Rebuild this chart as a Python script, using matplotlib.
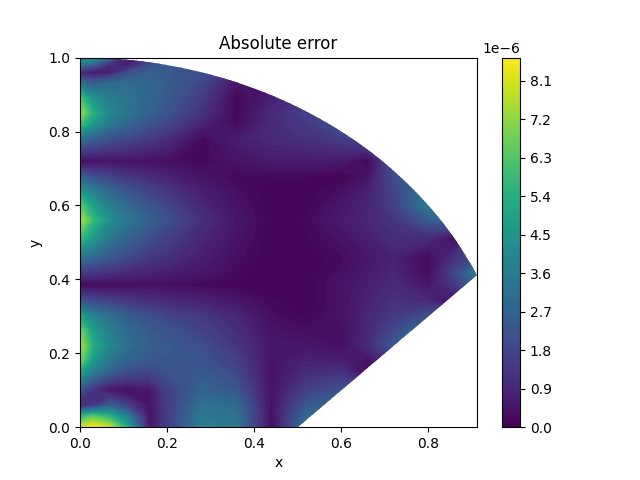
import numpy as np
import matplotlib
matplotlib.use('Agg')
import matplotlib.pyplot as plt
from matplotlib.path import Path

# sample positions
x_vals = [0, .03, .07, .11, .16, .2, .28, .36, .44, .52, .6, .66, .72, .8, .86, .92]
y_vals = [0, .03, .06, .1, .15, .18, .22, .26, .3, .34, .385, .42, .46, .51, .56, .6, .64, .68,
          .72, .78, .82, .85, .89, .93, .96, .98, 1.0]

# absolute error in units of 1e-6, one row per y value
err_00 = [8.0, 8.6, 7.8, 5.2, 0.4, 1.5, 3.7, 3.4, 0.2, 3.4, 3.4, 3.0, 3.0, 3.0, 3.0, 3.0]
err_03 = [5.5, 6.4, 5.5, 3.5, 0.4, 1.5, 3.5, 3.2, 0.3, 2.9, 3.3, 3.0, 3.0, 3.0, 3.0, 3.0]
err_06 = [0.8, 1.2, 2.5, 1.5, 0.4, 1.5, 3.2, 2.9, 0.4, 2.3, 2.8, 2.5, 2.5, 2.5, 2.5, 2.5]
err_10 = [2.2, 1.2, 0.4, 0.3, 0.5, 1.6, 2.7, 2.3, 0.4, 1.6, 2.2, 1.5, 1.5, 1.5, 1.5, 1.5]
err_15 = [5.0, 3.7, 2.6, 2.0, 1.8, 2.1, 2.4, 1.8, 0.4, 1.0, 1.2, 0.2, 0.5, 1.0, 1.0, 1.0]
err_18 = [6.8, 4.6, 3.3, 2.7, 2.3, 2.3, 2.2, 1.6, 0.4, 0.8, 0.7, 0.4, 1.4, 2.0, 2.0, 2.0]
err_22 = [7.6, 5.4, 3.9, 3.1, 2.6, 2.4, 2.0, 1.3, 0.5, 0.5, 0.3, 1.0, 2.3, 3.0, 3.0, 3.0]
err_26 = [6.8, 4.8, 3.6, 2.9, 2.4, 2.2, 1.7, 1.1, 0.4, 0.3, 0.3, 0.9, 1.9, 3.3, 3.3, 3.3]
err_30 = [5.0, 3.9, 3.1, 2.5, 2.1, 1.8, 1.4, 0.9, 0.3, 0.15, 0.4, 0.9, 1.4, 2.2, 2.2, 2.2]
err_34 = [2.2, 2.0, 1.7, 1.4, 1.2, 1.0, 0.8, 0.5, 0.2, 0.1, 0.4, 0.8, 1.2, 1.0, 0.2, 1.5]
err_38 = [0.1, 0.2, 0.2, 0.3, 0.3, 0.3, 0.2, 0.15, 0.1, 0.1, 0.4, 0.7, 1.0, 0.5, 1.4, 3.0]
err_42 = [1.5, 1.4, 1.2, 1.0, 0.8, 0.7, 0.5, 0.2, 0.1, 0.1, 0.3, 0.6, 0.9, 0.2, 1.8, 3.8]
err_46 = [3.2, 2.9, 2.3, 1.9, 1.4, 1.2, 0.7, 0.3, 0.1, 0.1, 0.25, 0.5, 0.8, 0.2, 1.2, 2.0]
err_51 = [5.8, 4.6, 3.3, 2.7, 2.0, 1.6, 0.9, 0.4, 0.1, 0.15, 0.4, 0.7, 1.1, 1.0, 0.2, 2.0]
err_56 = [7.6, 5.8, 4.2, 3.4, 2.6, 2.1, 1.1, 0.5, 0.1, 0.2, 0.6, 0.9, 1.3, 2.4, 3.0, 3.0]
err_60 = [6.4, 4.9, 3.6, 2.9, 2.2, 1.8, 0.9, 0.4, 0.1, 0.1, 0.5, 0.8, 1.6, 3.5, 3.5, 3.5]
err_64 = [4.5, 3.6, 2.8, 2.2, 1.7, 1.3, 0.7, 0.3, 0.1, 0.1, 0.3, 0.7, 1.7, 3.5, 3.5, 3.5]
err_68 = [2.4, 2.0, 1.6, 1.3, 1.0, 0.8, 0.4, 0.2, 0.2, 0.2, 0.1, 0.4, 2.0, 3.0, 3.0, 3.0]
err_72 = [0.2, 0.3, 0.4, 0.4, 0.35, 0.3, 0.2, 0.4, 0.6, 0.6, 0.6, 0.1, 2.0, 2.5, 2.5, 2.5]
err_78 = [3.0, 2.6, 2.1, 1.8, 1.4, 1.1, 0.2, 0.7, 1.0, 1.2, 1.5, 2.0, 2.0, 2.0, 2.0, 2.0]
err_82 = [6.0, 4.6, 3.3, 2.8, 2.2, 1.8, 0.8, 0.2, 1.0, 1.4, 2.2, 2.4, 2.4, 2.4, 2.4, 2.4]
err_85 = [7.4, 5.4, 3.9, 3.2, 2.6, 2.2, 1.2, 0.15, 1.0, 1.6, 2.4, 2.4, 2.4, 2.4, 2.4, 2.4]
err_89 = [6.2, 4.4, 3.6, 3.2, 2.8, 2.4, 1.5, 0.15, 0.7, 1.4, 1.4, 1.4, 1.4, 1.4, 1.4, 1.4]
err_93 = [3.2, 2.5, 3.0, 3.0, 2.8, 2.5, 1.8, 0.4, 0.3, 1.0, 1.0, 1.0, 1.0, 1.0, 1.0, 1.0]
err_96 = [0.8, 0.6, 0.7, 2.0, 2.6, 2.4, 2.0, 1.0, 1.0, 1.0, 1.0, 1.0, 1.0, 1.0, 1.0, 1.0]
err_98 = [3.2, 2.5, 1.0, 0.7, 2.0, 2.4, 2.0, 1.0, 1.0, 1.0, 1.0, 1.0, 1.0, 1.0, 1.0, 1.0]
err_100 = [5.0, 4.8, 2.5, 0.3, 1.5, 2.2, 2.0, 1.0, 1.0, 1.0, 1.0, 1.0, 1.0, 1.0, 1.0, 1.0]

err_rows = [err_00, err_03, err_06, err_10, err_15, err_18, err_22, err_26, err_30, err_34,
            err_38, err_42, err_46, err_51, err_56, err_60, err_64, err_68, err_72, err_78,
            err_82, err_85, err_89, err_93, err_96, err_98, err_100]
cbar_ticks = [0, 0.9e-6, 1.8e-6, 2.7e-6, 3.6e-6, 4.5e-6, 5.4e-6, 6.3e-6, 7.2e-6, 8.1e-6]

# domain: unit circle cut by the line y = x - 0.5
x_end = (1 + np.sqrt(7)) / 4
angles = np.linspace(np.pi / 2, np.arctan2(x_end - 0.5, x_end), 200)
outline = np.vstack([[[0, 0]], np.column_stack([np.cos(angles), np.sin(angles)]), [[0.5, 0]], [[0, 0]]])

fig, ax = plt.subplots()
levels = np.arange(0, 8.7e-6, 0.09e-6)
cs = ax.contourf(x_vals, y_vals, np.array(err_rows) * 1e-6, levels=levels, cmap='viridis')
cs.set_clip_path(Path(outline), transform=ax.transData)
fig.colorbar(cs, ax=ax, ticks=cbar_ticks)

ax.set_xlim(0, x_end)
ax.set_ylim(0, 1)
ax.set_xlabel('x')
ax.set_ylabel('y')
ax.set_title('Absolute error')
fig.savefig('out.png', dpi=100)
